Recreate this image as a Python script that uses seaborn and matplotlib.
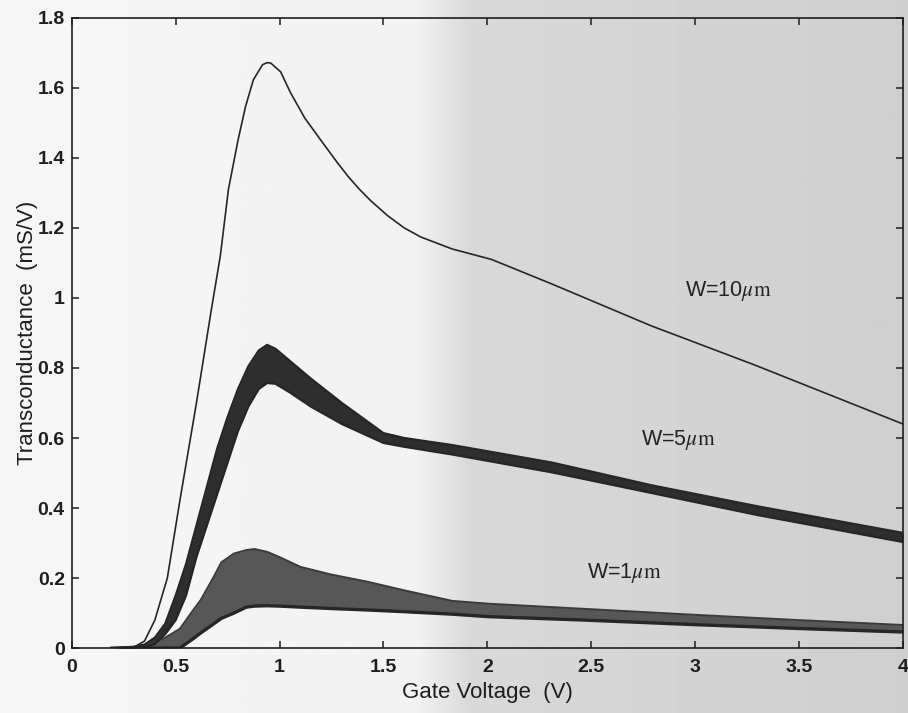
import matplotlib
matplotlib.use("Agg")
import matplotlib.pyplot as plt
import numpy as np
import seaborn as sns
from matplotlib.ticker import FuncFormatter, MultipleLocator

# W = 10 um : single curve
v10 = [0.20, 0.30, 0.35, 0.40, 0.46, 0.52, 0.60, 0.67, 0.715, 0.754, 0.80, 0.836, 0.874,
       0.918, 0.94, 0.957, 1.005, 1.053, 1.12, 1.198, 1.28, 1.33, 1.38, 1.44, 1.52, 1.60,
       1.68, 1.83, 2.02, 2.31, 2.79, 3.28, 4.0]
g10 = [0.0, 0.003, 0.02, 0.08, 0.20, 0.42, 0.70, 0.96, 1.12, 1.31, 1.45, 1.546, 1.623,
       1.666, 1.672, 1.671, 1.646, 1.586, 1.515, 1.451, 1.385, 1.347, 1.313, 1.277, 1.235, 1.20,
       1.174, 1.14, 1.11, 1.04, 0.92, 0.81, 0.64]

# W = 5 um : band of curves (upper / lower envelope)
v5 = [0.20, 0.30, 0.35, 0.40, 0.45, 0.50, 0.55, 0.60, 0.65, 0.70, 0.75, 0.80, 0.85,
      0.90, 0.94, 0.98, 1.05, 1.15, 1.30, 1.50, 1.60, 1.83, 2.31, 2.79, 3.30, 4.0]
g5_hi = [0.0, 0.004, 0.01, 0.03, 0.07, 0.15, 0.24, 0.35, 0.46, 0.57, 0.66, 0.74, 0.805,
         0.85, 0.866, 0.855, 0.82, 0.77, 0.70, 0.614, 0.60, 0.58, 0.53, 0.465, 0.405, 0.329]
g5_lo = [0.0, 0.0, 0.002, 0.012, 0.04, 0.08, 0.15, 0.26, 0.35, 0.44, 0.53, 0.62, 0.69,
         0.74, 0.757, 0.755, 0.73, 0.69, 0.64, 0.586, 0.575, 0.553, 0.502, 0.443, 0.38, 0.303]

# W = 1 um : band of curves
v1 = [0.19, 0.30, 0.39, 0.45, 0.52, 0.58, 0.62, 0.68, 0.72, 0.78, 0.84, 0.88, 0.94,
      1.0, 1.10, 1.25, 1.42, 1.60, 1.83, 2.0, 2.47, 3.0, 3.5, 4.0]
g1_hi = [0.0, 0.003, 0.014, 0.03, 0.055, 0.105, 0.137, 0.20, 0.245, 0.27, 0.28, 0.283, 0.275,
         0.26, 0.232, 0.21, 0.19, 0.165, 0.135, 0.127, 0.112, 0.095, 0.08, 0.066]
g1_lo = [0.0, 0.0, 0.0, 0.0, 0.0, 0.025, 0.043, 0.068, 0.085, 0.10, 0.117, 0.12, 0.121,
         0.12, 0.117, 0.113, 0.109, 0.104, 0.097, 0.09, 0.08, 0.067, 0.056, 0.046]

labels = ["W=10$\\mu\\mathrm{m}$", "W=5$\\mu\\mathrm{m}$", "W=1$\\mu\\mathrm{m}$"]
label_x = [3.16, 2.92, 2.66]
label_y = [1.02, 0.594, 0.214]

sns.set_theme(style="ticks")
plt.rcParams["font.family"] = ["Liberation Sans", "DejaVu Sans"]
plt.rcParams["mathtext.fontset"] = "stix"

fig = plt.figure(figsize=(9.08, 7.13), dpi=100)

# scanned-page background: white on the left, grey towards the right
bg = fig.add_axes([0, 0, 1, 1], zorder=-5)
cols = np.linspace(0, 1, 400)
shade = np.where(cols < 0.46, 0.965 - 0.03 * cols,
                 np.where(cols < 0.52, 0.95 - (cols - 0.46) * 1.7, 0.85 - (cols - 0.52) * 0.08))
bg.imshow(np.tile(shade, (10, 1)), cmap="gray", vmin=0, vmax=1, aspect="auto",
          extent=[0, 1, 0, 1])
bg.set_axis_off()

ax = fig.add_axes([0.079, 0.091, 0.9155, 0.884])
ax.set_facecolor("none")

ink = "#262626"
ax.fill_between(v1, g1_lo, g1_hi, color="#575757", lw=0)
sns.lineplot(x=v1, y=g1_hi, color="#3a3a3a", lw=1.4, estimator=None, sort=False, ax=ax)
sns.lineplot(x=v1, y=g1_lo, color=ink, lw=2.4, estimator=None, sort=False, ax=ax)

ax.fill_between(v5, g5_lo, g5_hi, color="#2e2e2e", lw=0)
sns.lineplot(x=v5, y=g5_hi, color=ink, lw=1.6, estimator=None, sort=False, ax=ax)
sns.lineplot(x=v5, y=g5_lo, color=ink, lw=1.6, estimator=None, sort=False, ax=ax)

sns.lineplot(x=v10, y=g10, color=ink, lw=1.2, estimator=None, sort=False, ax=ax)

for txt, tx, ty in zip(labels, label_x, label_y):
    ax.text(tx, ty, txt, ha="center", va="center", fontsize=15.5, color="#222222")

ax.set_xlim(0, 4)
ax.set_ylim(0, 1.8)
ax.xaxis.set_major_locator(MultipleLocator(0.5))
ax.yaxis.set_major_locator(MultipleLocator(0.2))
fmt = FuncFormatter(lambda v, p: f"{v:g}")
ax.xaxis.set_major_formatter(fmt)
ax.yaxis.set_major_formatter(fmt)
ax.tick_params(direction="in", length=5, width=1.1, top=True, right=True,
               labelsize=14, colors="#1e1e1e", pad=5)
ax.tick_params(axis="x", pad=8)
for t in ax.get_xticklabels() + ax.get_yticklabels():
    t.set_fontweight("bold")
for s in ax.spines.values():
    s.set_visible(True)
    s.set_linewidth(1.2)
    s.set_color("#1e1e1e")

ax.set_xlabel("Gate Voltage  (V)", fontsize=16, color="#1e1e1e", labelpad=4)
ax.set_ylabel("Transconductance  (mS/V)", fontsize=16, color="#1e1e1e", labelpad=0)

fig.savefig("out.png", dpi=100)
